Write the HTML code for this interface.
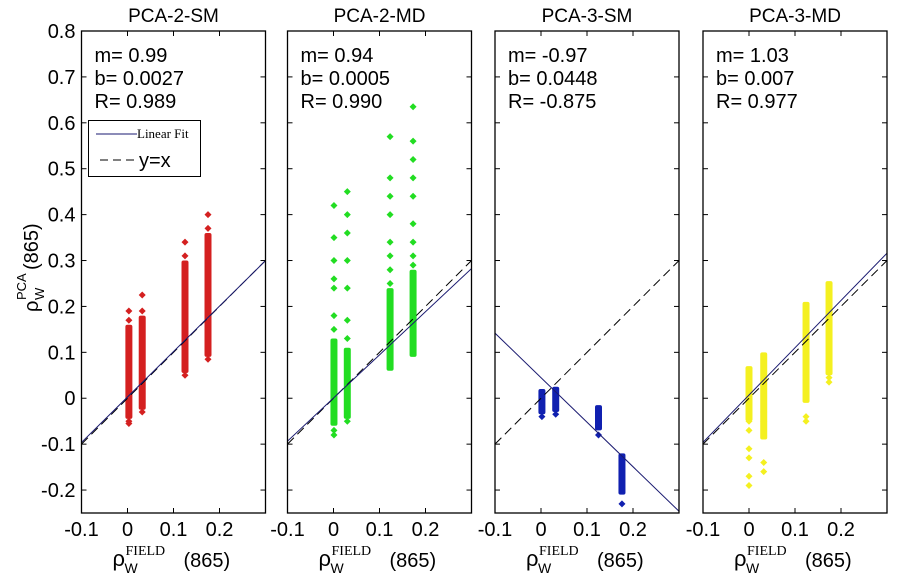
<!DOCTYPE html>
<html><head><meta charset="utf-8"><style>
body{margin:0;background:#fff;}
svg text{font-family:"Liberation Sans",Arial,sans-serif;}
</style></head><body>
<svg id="chart" width="906" height="576" xmlns="http://www.w3.org/2000/svg"></svg>
<script>
const panelTitles=["PCA-2-SM","PCA-2-MD","PCA-3-SM","PCA-3-MD"];
const panelColors=["#d42020","#22dd22","#1020b0","#f4f020"];
const slopes=[0.99,0.94,-0.97,1.03];
const intercepts=[0.0027,0.0005,0.0448,0.007];
const rValues=["0.989","0.990","-0.875","0.977"];
const slopeLabels=["0.99","0.94","-0.97","1.03"];
const interceptLabels=["0.0027","0.0005","0.0448","0.007"];
const columnX=[[0.003,0.032,0.125,0.175],[0.001,0.030,0.123,0.173],[0.002,0.032,0.125,0.176],[0.0,0.032,0.124,0.174]];
const denseLo=[[-0.045,-0.025,0.055,0.09],[-0.06,-0.045,0.06,0.09],[-0.035,-0.03,-0.07,-0.21],[-0.05,-0.09,-0.01,0.05]];
const denseHi=[[0.16,0.18,0.3,0.36],[0.13,0.11,0.24,0.28],[0.02,0.025,-0.015,-0.12],[0.07,0.1,0.21,0.255]];
const sparse=[
 [[-0.055,-0.05,0.17,0.19],[-0.03,0.19,0.225],[0.05,0.31,0.34],[0.085,0.37,0.40]],
 [[-0.08,-0.07,0.15,0.18,0.24,0.26,0.30,0.35,0.42],[-0.05,0.13,0.17,0.24,0.30,0.36,0.40,0.45],[0.25,0.28,0.31,0.34,0.40,0.44,0.48,0.57],[0.29,0.31,0.34,0.38,0.44,0.48,0.52,0.56,0.635]],
 [[-0.04],[-0.035],[-0.08],[-0.23]],
 [[-0.19,-0.17,-0.13,-0.11,-0.07,-0.05],[-0.16,-0.14,-0.05,-0.03],[-0.05,-0.04,0.04,0.05],[0.035,0.045,0.075,0.085]]
];
const yTicks=[-0.2,-0.1,0,0.1,0.2,0.3,0.4,0.5,0.6,0.7,0.8];
const yTickLabels=["-0.2","-0.1","0","0.1","0.2","0.3","0.4","0.5","0.6","0.7","0.8"];
const xTicks=[-0.1,0,0.1,0.2];
const xTickLabels=["-0.1","0","0.1","0.2"];

const NS="http://www.w3.org/2000/svg";
const svg=document.getElementById('chart');
function mk(tag,attrs,parent){const e=document.createElementNS(NS,tag);for(const k in attrs)e.setAttribute(k,attrs[k]);(parent||svg).appendChild(e);return e;}
const panelX0=[81.5,287.5,495,703];
const PW=184, PT=31, PB=513;
const yMin=-0.25,yMax=0.8,xMin=-0.1,xMax=0.3;
function sy(v){return PB-(v-yMin)/(yMax-yMin)*(PB-PT);}

for(let p=0;p<4;p++){
  const x0=panelX0[p];
  const sx=v=>x0+(v-xMin)/(xMax-xMin)*PW;
  const g=mk('g',{});
  
  
  const clipId='clip'+p;
  const cp=mk('clipPath',{id:clipId},g);mk('rect',{x:x0,y:PT,width:PW,height:PB-PT},cp);
  const t=mk('text',{x:x0+PW/2,y:22,'text-anchor':'middle','font-size':19},g);t.textContent=panelTitles[p];
  
  
  yTicks.forEach((v,i)=>{const y=sy(v);
    mk('line',{x1:x0,x2:x0+5,y1:y,y2:y,stroke:'#000'},g);
    mk('line',{x1:x0+PW-5,x2:x0+PW,y1:y,y2:y,stroke:'#000'},g);
    if(p===0){const tl=mk('text',{x:x0-6,y:y+7,'text-anchor':'end','font-size':20},g);tl.textContent=yTickLabels[i];
      
      }
  });
  xTicks.forEach((v,i)=>{const x=sx(v);
    mk('line',{x1:x,x2:x,y1:PB,y2:PB-5,stroke:'#000'},g);
    mk('line',{x1:x,x2:x,y1:PT,y2:PT+5,stroke:'#000'},g);
    const tl=mk('text',{x:x,y:PB+23,'text-anchor':'middle','font-size':20},g);tl.textContent=xTickLabels[i];
    
    
  });
  const pg=mk('g',{fill:panelColors[p],'clip-path':'url(#'+clipId+')'},g);
  
  
  columnX[p].forEach((cx,c)=>{
    const X=sx(cx);
    const r=mk('rect',{x:X-3.5,y:sy(denseHi[p][c]),width:7,height:sy(denseLo[p][c])-sy(denseHi[p][c]),rx:2},pg);
    
    
    sparse[p][c].forEach(v=>{const Y=sy(v);
      const d=mk('path',{d:`M${X},${Y-3.5}L${X+3.5},${Y}L${X},${Y+3.5}L${X-3.5},${Y}Z`},pg);
      
      });
  });
  const lg=mk('g',{'clip-path':'url(#'+clipId+')'},g);
  const yx=mk('line',{x1:sx(xMin),y1:sy(xMin),x2:sx(xMax),y2:sy(xMax),stroke:'#000','stroke-width':1,'stroke-dasharray':'9,5'},lg);
  
  
  const lf=mk('line',{x1:sx(xMin),y1:sy(slopes[p]*xMin+intercepts[p]),x2:sx(xMax),y2:sy(slopes[p]*xMax+intercepts[p]),stroke:'#1a1a70','stroke-width':1},lg);
  
  
  const st=["m= "+slopeLabels[p],"b= "+interceptLabels[p],"R= "+rValues[p]];
  st.forEach((s,i)=>{const tx=mk('text',{x:x0+13,y:62+i*23,'font-size':20},g);tx.textContent=s;
    
    });
  const fr=mk('rect',{x:x0,y:PT,width:PW,height:PB-PT,fill:'none',stroke:'#000','stroke-width':1.3},g);
  
  
}
const lg=mk('g',{});


mk('rect',{x:88.5,y:120.5,width:112,height:56,fill:'#fff',stroke:'#000'},lg);
mk('line',{x1:96,x2:137,y1:134,y2:134,stroke:'#1a1a70'},lg);
const l1=mk('text',{x:137,y:138,'font-size':13,style:'font-family:"Liberation Serif",serif'},lg);l1.textContent="Linear Fit";
mk('line',{x1:100,x2:137,y1:160,y2:160,stroke:'#000','stroke-dasharray':'8,5'},lg);
const l2=mk('text',{x:139,y:167,'font-size':20},lg);l2.textContent="y=x";
const yl=mk('g',{transform:'translate(38,272) rotate(-90)'});


const yt=mk('text',{x:-40,y:0,'font-size':20},yl);yt.textContent="ρ";
const ys1=mk('text',{x:-28,y:6,'font-size':13},yl);ys1.textContent="W";
const ys2=mk('text',{x:-28,y:-12,'font-size':13},yl);ys2.textContent="PCA";
const yt2=mk('text',{x:2,y:0,'font-size':20},yl);yt2.textContent="(865)";
panelX0.forEach(x0=>{
  const g=mk('g',{});
  
  
  const a=mk('text',{x:x0+31,y:566,'font-size':22},g);a.textContent="ρ";
  const b=mk('text',{x:x0+43,y:573,'font-size':14},g);b.textContent="W";
  const c=mk('text',{x:x0+44,y:555,'font-size':14,style:'font-family:"Liberation Serif",serif'},g);c.textContent="FIELD";
  const d=mk('text',{x:x0+102,y:567,'font-size':20},g);d.textContent="(865)";
});
</script>
</body></html>
